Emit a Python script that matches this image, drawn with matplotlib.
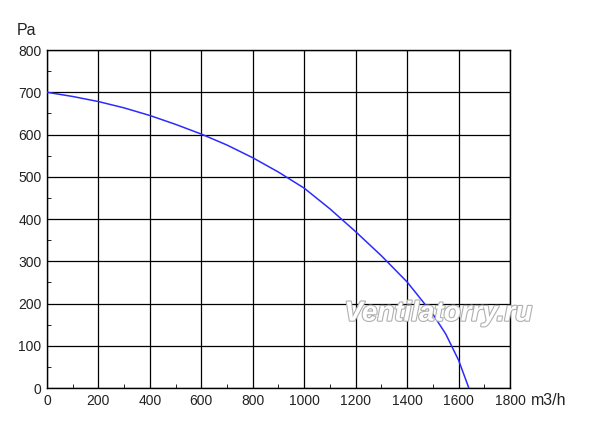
import numpy as np
import matplotlib.pyplot as plt
import matplotlib.patheffects as pe
from matplotlib.ticker import MultipleLocator

plt.rcParams['font.family'] = ['Liberation Sans', 'DejaVu Sans']

# fan curve
flow = [0, 100, 200, 300, 400, 500, 600, 700, 800, 900, 1000, 1100, 1200, 1300, 1400, 1500, 1550, 1600, 1640]
pressure = [700, 690, 678, 663, 645, 624, 601, 575, 545, 511, 473, 424, 370, 313, 251, 175, 128, 66, 0]
xTicks = [0, 200, 400, 600, 800, 1000, 1200, 1400, 1600, 1800]
yTicks = [0, 100, 200, 300, 400, 500, 600, 700, 800]

fig = plt.figure(figsize=(6, 4.26), dpi=100)
ax = fig.add_axes([0.0783, 0.0892, 0.7717, 0.7934])
ax.plot(flow, pressure, color="#2b2bff", lw=1.1, zorder=3)
ax.set_xlim(0, 1800)
ax.set_ylim(0, 800)
ax.set_xticks(xTicks)
ax.set_yticks(yTicks)
ax.xaxis.set_minor_locator(MultipleLocator(100))
ax.yaxis.set_minor_locator(MultipleLocator(50))
ax.grid(True, which="major", color="black", lw=0.9)
ax.tick_params(which="both", direction="in", labelsize=10, colors="black", labelcolor="#222222")
ax.tick_params(which="major", length=0, pad=4)
ax.tick_params(which="minor", length=3)
for s in ax.spines.values():
    s.set_color("black")
    s.set_linewidth(1)

fig.text(0.028, 0.918, "Pa", fontsize=11.5, color="#222222")
fig.text(0.885, 0.049, "m3/h", fontsize=11.5, color="#222222")

wm = ax.text(0.845, 0.22, "Ventilatorry.ru", transform=ax.transAxes, ha="center", va="center",
             fontsize=20, style="italic", fontweight="bold", color="white", zorder=4)
wm.set_path_effects([pe.Stroke(linewidth=1.6, foreground="#b0b0b0"), pe.Normal()])

fig.savefig("out.png", dpi=100)
